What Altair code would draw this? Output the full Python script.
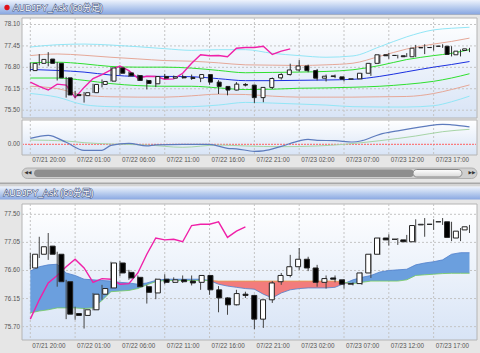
import altair as alt
import pandas as pd

# ---------------- data ----------------
idx = list(range(50))
opens = [76.64, 76.86, 76.99, 76.86, 76.42, 75.91, 75.88, 75.97, 76.22, 76.32,
         76.72, 76.57, 76.49, 76.34, 76.24, 76.46, 76.41, 76.45, 76.43, 76.41,
         76.52, 76.29, 76.16, 76.05, 76.22, 76.20, 75.82, 76.13, 76.42, 76.52,
         76.66, 76.78, 76.64, 76.41, 76.48, 76.45, 76.38, 76.39, 76.56, 76.86,
         77.12, 77.10, 77.09, 77.06, 77.33, 77.34, 77.38, 77.38, 77.12, 77.25]
highs = [76.88, 77.14, 77.20, 76.90, 76.45, 76.02, 75.99, 76.24, 76.37, 76.74,
         76.75, 76.61, 76.52, 76.37, 76.47, 76.54, 76.49, 76.52, 76.52, 76.52,
         76.53, 76.35, 76.17, 76.29, 76.26, 76.21, 76.13, 76.43, 76.56, 76.85,
         76.96, 76.82, 76.69, 76.52, 76.52, 76.46, 76.41, 76.57, 76.87, 77.13,
         77.18, 77.12, 77.17, 77.42, 77.44, 77.42, 77.44, 77.38, 77.28, 77.33]
lows = [76.62, 76.80, 76.77, 76.34, 75.82, 75.81, 75.67, 75.96, 76.13, 76.31,
        76.51, 76.45, 76.33, 76.07, 76.14, 76.38, 76.40, 76.40, 76.36, 76.29,
        76.21, 75.93, 75.89, 76.04, 76.16, 75.66, 75.68, 76.08, 76.37, 76.49,
        76.61, 76.59, 76.34, 76.31, 76.41, 76.31, 76.36, 76.37, 76.48, 76.85,
        77.00, 77.01, 77.05, 77.05, 77.14, 77.25, 77.33, 77.07, 77.07, 77.20]
closes = [76.86, 76.98, 76.86, 76.42, 75.90, 75.88, 75.97, 76.22, 76.31, 76.72,
          76.56, 76.48, 76.34, 76.25, 76.46, 76.41, 76.45, 76.42, 76.40, 76.52,
          76.29, 76.16, 76.05, 76.23, 76.20, 75.82, 76.13, 76.40, 76.52, 76.66,
          76.78, 76.64, 76.41, 76.47, 76.46, 76.38, 76.39, 76.56, 76.86, 77.12,
          77.09, 77.10, 77.06, 77.32, 77.34, 77.34, 77.38, 77.13, 77.23, 77.30]

tick_idx = [0, 5, 10, 15, 20, 25, 30, 35, 40, 45]
tick_labels = ["07/21 20:00", "07/22 01:00", "07/22 06:00", "07/22 11:00",
               "07/22 16:00", "07/22 21:00", "07/23 02:00", "07/23 07:00",
               "07/23 12:00", "07/23 17:00"]
top_prices = [75.50, 76.15, 76.80, 77.45, 78.10]
bot_prices = [75.70, 76.15, 76.60, 77.05, 77.50]

# Bollinger bands (upper panel)
bb_idx = [0, 3, 6, 9, 12, 15, 18, 21, 24, 27, 30, 33, 36, 39, 42, 45, 47, 49]
bb_mid = [76.675, 76.645, 76.595, 76.505, 76.465, 76.465, 76.455, 76.395, 76.335,
          76.335, 76.345, 76.355, 76.375, 76.465, 76.605, 76.745, 76.825, 76.915]
bb_up1 = [76.875, 76.895, 76.845, 76.765, 76.745, 76.745, 76.715, 76.645, 76.575,
          76.585, 76.595, 76.615, 76.665, 76.795, 76.975, 77.095, 77.165, 77.275]
bb_dn1 = [76.415, 76.415, 76.345, 76.245, 76.185, 76.165, 76.165, 76.115, 76.065,
          76.075, 76.105, 76.115, 76.135, 76.165, 76.225, 76.315, 76.415, 76.545]
bb_up2 = [77.095, 77.145, 77.105, 77.045, 76.995, 76.945, 76.925, 76.875, 76.815,
          76.805, 76.795, 76.815, 76.865, 77.075, 77.295, 77.445, 77.525, 77.625]
bb_dn2 = [76.165, 76.095, 75.895, 75.845, 75.835, 75.835, 75.875, 75.925, 75.915,
          75.865, 75.835, 75.835, 75.835, 75.845, 75.855, 75.945, 76.065, 76.205]
bb_up3 = [77.355, 77.425, 77.445, 77.415, 77.365, 77.305, 77.255, 77.275, 77.275,
          77.165, 77.095, 77.045, 77.085, 77.365, 77.665, 77.875, 77.925, 77.955]
bb_dn3 = [75.945, 75.835, 75.605, 75.545, 75.535, 75.535, 75.545, 75.595, 75.675,
          75.655, 75.625, 75.595, 75.545, 75.535, 75.535, 75.575, 75.695, 75.865]

# pink lagging line, upper panel
top_lag_idx = list(range(30))
top_lag = [76.29, 76.16, 76.05, 76.23, 76.20, 75.82, 76.13, 76.40, 76.52, 76.66,
           76.78, 76.64, 76.41, 76.47, 76.46, 76.38, 76.39, 76.56, 76.86, 77.12,
           77.09, 77.10, 77.06, 77.32, 77.34, 77.34, 77.38, 77.13, 77.23, 77.30]

# oscillator
osc_idx = [0, 2, 4, 6, 8, 9, 11, 13, 14, 17, 20, 22, 23, 25, 26, 28, 30, 31, 32,
           34, 36, 37, 39, 41, 44, 46, 47, 49]
osc_main = [0.06, 0.09, 0.02, -0.06, -0.06, -0.01, 0.01, -0.015, -0.005, 0.0, 0.0,
            -0.04, -0.045, -0.07, -0.065, -0.02, 0.035, 0.05, 0.04, 0.036, 0.023,
            0.036, 0.10, 0.135, 0.18, 0.20, 0.195, 0.175]
sig_idx = [0, 4, 6, 9, 13, 17, 21, 24, 28, 32, 35, 39, 43, 46, 49]
osc_sig = [0.043, 0.033, 0.016, 0.003, -0.007, -0.03, -0.007, -0.017, -0.024,
           -0.017, 0.0, 0.036, 0.083, 0.126, 0.15]

# Ichimoku (lower panel)
span_a = [76.59, 76.66, 76.69, 76.70, 76.56, 76.52, 76.46, 76.45, 76.44, 76.43,
          76.41, 76.40, 76.38, 76.40, 76.44, 76.46, 76.46, 76.46, 76.46, 76.46,
          76.44, 76.38, 76.35, 76.33, 76.31, 76.30, 76.22, 76.16, 76.24, 76.29,
          76.31, 76.32, 76.32, 76.32, 76.33, 76.39, 76.45, 76.49, 76.52, 76.575,
          76.60, 76.61, 76.62, 76.69, 76.72, 76.74, 76.77, 76.86, 76.885, 76.885]
span_b = [75.92, 75.95, 75.97, 76.00, 76.00, 76.00, 75.99, 76.00, 76.12, 76.26,
          76.27, 76.28, 76.31, 76.37, 76.42, 76.44, 76.44, 76.44, 76.44, 76.44,
          76.44, 76.43, 76.43, 76.43, 76.43, 76.43, 76.43, 76.43, 76.43, 76.43,
          76.43, 76.43, 76.43, 76.43, 76.43, 76.41, 76.39, 76.41, 76.43, 76.43,
          76.43, 76.43, 76.45, 76.52, 76.53, 76.54, 76.55, 76.555, 76.555, 76.555]
chikou_idx = list(range(25))
chikou = [75.82, 76.13, 76.40, 76.52, 76.66, 76.78, 76.64, 76.41, 76.47, 76.46,
          76.38, 76.39, 76.56, 76.86, 77.12, 77.09, 77.10, 77.06, 77.32, 77.34,
          77.34, 77.38, 77.13, 77.23, 77.30]

TITLE = "AUDJPY_Ask (60分足)"

# ---------------- layout constants ----------------
I0, DI = 30.3, 8.963
XL, XR = 22, 477
XDOM = [(XL - I0) / DI, (XR - I0) / DI]
TOP_RNG, TOP_DOM = [118, 18], [75.202, 78.236]
OSC_RNG, OSC_DOM = [155, 120], [-0.107, 0.243]
BOT_RNG, BOT_DOM = [340, 205], [75.486, 77.649]
FONT = "Liberation Sans, Noto Sans CJK JP"

# ---------------- tables ----------------
candles = pd.DataFrame({"i": idx, "o": opens, "h": highs, "l": lows, "c": closes})
ticks = pd.DataFrame({"i": tick_idx, "lab": tick_labels})
topp = pd.DataFrame({"p": top_prices})
botp = pd.DataFrame({"p": bot_prices})
bands = pd.concat([
    pd.DataFrame({"i": bb_idx, "v": vals, "band": name})
    for name, vals in [("up3", bb_up3), ("dn3", bb_dn3), ("up2", bb_up2), ("dn2", bb_dn2),
                       ("up1", bb_up1), ("dn1", bb_dn1), ("mid", bb_mid)]
])
toplag = pd.DataFrame({"i": top_lag_idx, "v": top_lag})
osc1 = pd.DataFrame({"i": osc_idx, "v": osc_main})
osc2 = pd.DataFrame({"i": sig_idx, "v": osc_sig})
cloud = pd.DataFrame({"i": idx, "a": span_a, "b": span_b})
cloud["lo"] = cloud[["a", "b"]].min(axis=1)
chk = pd.DataFrame({"i": chikou_idx, "v": chikou})
one = pd.DataFrame({"k": [0]})


def xq(field="i"):
    return alt.X(f"{field}:Q", scale=alt.Scale(domain=XDOM, range=[XL, XR], nice=False, zero=False), axis=None)


def yq(field, dom, rng):
    return alt.Y(f"{field}:Q", scale=alt.Scale(domain=dom, range=rng, nice=False, zero=False), axis=None)


def grad(stops):
    return alt.LinearGradient(gradient="linear", x1=0, x2=0, y1=0, y2=1,
                              stops=[alt.GradientStop(offset=o, color=c) for o, c in stops])


def box(x1, x2, y1, y2, **mk):
    return alt.Chart(one).mark_rect(**mk).encode(
        x=alt.value(x1), x2=alt.value(x2), y=alt.value(y1), y2=alt.value(y2))


def txt(x, y, s, **mk):
    mk.setdefault("font", FONT)
    return alt.Chart(one).mark_text(text=s, **mk).encode(x=alt.value(x), y=alt.value(y))


bar_grad = grad([(0, "#eef3fc"), (0.45, "#c0d2f0"), (1, "#8aa8e2")])
plot_grad = grad([(0, "#ffffff"), (1, "#d8e4f6")])

layers = []

# ---------- frames ----------
layers += [
    box(0, 480, 0, 14, fill=bar_grad),
    box(0, 480, 14, 15, fill="#a4b0c6"),
    box(XL, XR, 18, 118, fill=plot_grad, stroke="#b4b4b4", strokeWidth=1),
    box(XL, XR, 120, 155, fill=plot_grad, stroke="#b4b4b4", strokeWidth=1),
    box(0, 480, 182.5, 184, fill="#a8a8a8"),
    box(0, 480, 184, 186.5, fill="#d4d4d4"),
    box(0, 480, 186.5, 199.5, fill=bar_grad),
    box(XL, XR, 204, 340, fill=plot_grad, stroke="#b4b4b4", strokeWidth=1),
]

# ---------- grids ----------
for y1, y2 in [(18, 118), (120, 155), (204, 340)]:
    layers.append(alt.Chart(ticks).mark_rule(color="#c4c4c4", strokeDash=[2, 2], strokeWidth=1).encode(
        x=xq(), y=alt.value(y1), y2=alt.value(y2)))
layers.append(alt.Chart(topp).mark_rule(color="#c4c4c4", strokeDash=[2, 2], yOffset=2).encode(
    y=yq("p", TOP_DOM, TOP_RNG), x=alt.value(XL), x2=alt.value(XR)))
layers.append(alt.Chart(botp).mark_rule(color="#c4c4c4", strokeDash=[2, 2]).encode(
    y=yq("p", BOT_DOM, BOT_RNG), x=alt.value(XL), x2=alt.value(XR)))

# ---------- y labels ----------
layers.append(alt.Chart(topp).mark_text(align="right", baseline="middle", fontSize=6.3, color="#555", font=FONT, dy=2).encode(
    x=alt.value(20), y=yq("p", TOP_DOM, TOP_RNG), text=alt.Text("p:Q", format=".2f")))
layers.append(alt.Chart(botp).mark_text(align="right", baseline="middle", fontSize=6.3, color="#555", font=FONT).encode(
    x=alt.value(20), y=yq("p", BOT_DOM, BOT_RNG), text=alt.Text("p:Q", format=".2f")))
layers.append(txt(20, 144.3, "0.00", align="right", baseline="middle", fontSize=6.3, color="#555"))

# ---------- Bollinger bands ----------
band_order = ["up3", "dn3", "up2", "dn2", "up1", "dn1", "mid"]
band_cols = ["#92e6f6", "#92e6f6", "#e6a898", "#e6a898", "#2fe02f", "#2fe02f", "#1a2fe0"]
band_w = [1, 1, 1, 1, 2, 2, 2]
layers.append(alt.Chart(bands).mark_line(interpolate="monotone").encode(
    x=xq(), y=yq("v", TOP_DOM, TOP_RNG), detail="band:N",
    color=alt.Color("band:N", scale=alt.Scale(domain=band_order, range=band_cols), legend=None),
    strokeWidth=alt.StrokeWidth("band:N", scale=alt.Scale(domain=band_order, range=band_w), legend=None)))
layers.append(alt.Chart(toplag).mark_line(color="#f020a8", strokeWidth=1.4).encode(
    x=xq(), y=yq("v", TOP_DOM, TOP_RNG)))

# ---------- candles (top) ----------
layers.append(alt.Chart(candles).mark_rule(color="#333", strokeWidth=1).encode(
    x=xq(), y=yq("l", TOP_DOM, TOP_RNG), y2="h:Q"))
layers.append(alt.Chart(candles).mark_bar(size=4, stroke="#222", strokeWidth=1).encode(
    x=xq(), y=yq("o", TOP_DOM, TOP_RNG), y2="c:Q",
    fill=alt.condition("datum.c >= datum.o", alt.value("white"), alt.value("black"))))

# ---------- oscillator ----------
layers.append(box(XL + 1, XR - 1, 144.3, 144.3, stroke="#ff6060", strokeDash=[1, 2], strokeWidth=1))
layers.append(alt.Chart(osc2).mark_line(color="#a6d4a6", strokeWidth=1, interpolate="monotone").encode(
    x=xq(), y=yq("v", OSC_DOM, OSC_RNG)))
layers.append(alt.Chart(osc1).mark_line(color="#5d7bbd", strokeWidth=1.2, interpolate="monotone").encode(
    x=xq(), y=yq("v", OSC_DOM, OSC_RNG)))

# ---------- x labels ----------
for yy in [160, 346]:
    layers.append(alt.Chart(ticks).mark_text(align="left", baseline="middle", fontSize=6.3, color="#555", font=FONT, dx=2).encode(
        x=xq(), y=alt.value(yy), text="lab:N"))

# ---------- scrollbar ----------
layers += [
    box(XL, XR, 168, 178.5, fill="#cfcfcf", stroke="#b0b0b0", cornerRadius=6),
    box(34, 414, 169.5, 177, fill="#8e8e8e", cornerRadius=4),
    box(413, 462, 169.5, 177, fill=grad([(0, "#ffffff"), (1, "#d8d8d8")]), stroke="#888", cornerRadius=4),
    txt(28, 173.3, "◀◀", fontSize=4.5, color="#333", align="center", baseline="middle", font="DejaVu Sans"),
    txt(472, 173.3, "▶▶", fontSize=4.5, color="#333", align="center", baseline="middle", font="DejaVu Sans"),
]

# ---------- titles ----------
layers += [
    alt.Chart(one).mark_point(filled=True, size=28, color="#e0121a", opacity=1).encode(
        x=alt.value(7), y=alt.value(7.5)),
    txt(13, 7.5, TITLE, fontSize=8.8, color="#4a5a84", align="left", baseline="middle", stroke="#4a5a84", strokeWidth=1.1),
    txt(13, 7.5, TITLE, fontSize=8.8, color="white", align="left", baseline="middle"),
    txt(3.5, 193.3, TITLE, fontSize=8.8, color="#4a5a84", align="left", baseline="middle", stroke="#4a5a84", strokeWidth=1.1),
    txt(3.5, 193.3, TITLE, fontSize=8.8, color="white", align="left", baseline="middle"),
]

# ---------- Ichimoku cloud (bottom) ----------
layers.append(alt.Chart(cloud).mark_area(color="#6b9fde", opacity=1).encode(
    x=xq(), y=yq("a", BOT_DOM, BOT_RNG), y2="lo:Q"))
layers.append(alt.Chart(cloud).mark_area(color="#f27c7c", opacity=1).encode(
    x=xq(), y=yq("b", BOT_DOM, BOT_RNG), y2="lo:Q"))
layers.append(alt.Chart(cloud).mark_line(color="#4f7fcc", strokeWidth=0.8).encode(
    x=xq(), y=yq("a", BOT_DOM, BOT_RNG)))
layers.append(alt.Chart(cloud).transform_calculate(seg="datum.i <= 20 ? 'a' : 'b'").transform_filter(
    "datum.i <= 20 || datum.i >= 35").mark_line(color="#74cc5a", strokeWidth=0.8).encode(
    x=xq(), y=yq("b", BOT_DOM, BOT_RNG), detail=alt.Detail("seg:N")))
layers.append(alt.Chart(cloud).transform_filter("datum.i >= 20 && datum.i <= 35").mark_line(color="#e3a04a", strokeWidth=0.8).encode(
    x=xq(), y=yq("b", BOT_DOM, BOT_RNG)))
layers.append(alt.Chart(chk).mark_line(color="#f020a8", strokeWidth=1.4).encode(
    x=xq(), y=yq("v", BOT_DOM, BOT_RNG)))

# ---------- candles (bottom) ----------
layers.append(alt.Chart(candles).mark_rule(color="#444", strokeWidth=1).encode(
    x=xq(), y=yq("l", BOT_DOM, BOT_RNG), y2="h:Q"))
layers.append(alt.Chart(candles).mark_bar(size=5, stroke="#222", strokeWidth=1).encode(
    x=xq(), y=yq("o", BOT_DOM, BOT_RNG), y2="c:Q",
    fill=alt.condition("datum.c >= datum.o", alt.value("white"), alt.value("black"))))

chart = alt.layer(*layers).resolve_scale(
    x="independent", y="independent", color="independent", strokeWidth="independent"
).properties(
    width=480, height=353, padding=0, autosize=alt.AutoSizeParams(type="none")
).configure(background="#e6e6e6").configure_view(stroke=None)

chart.save("out.html", embed_options={"renderer": "svg", "actions": False})
